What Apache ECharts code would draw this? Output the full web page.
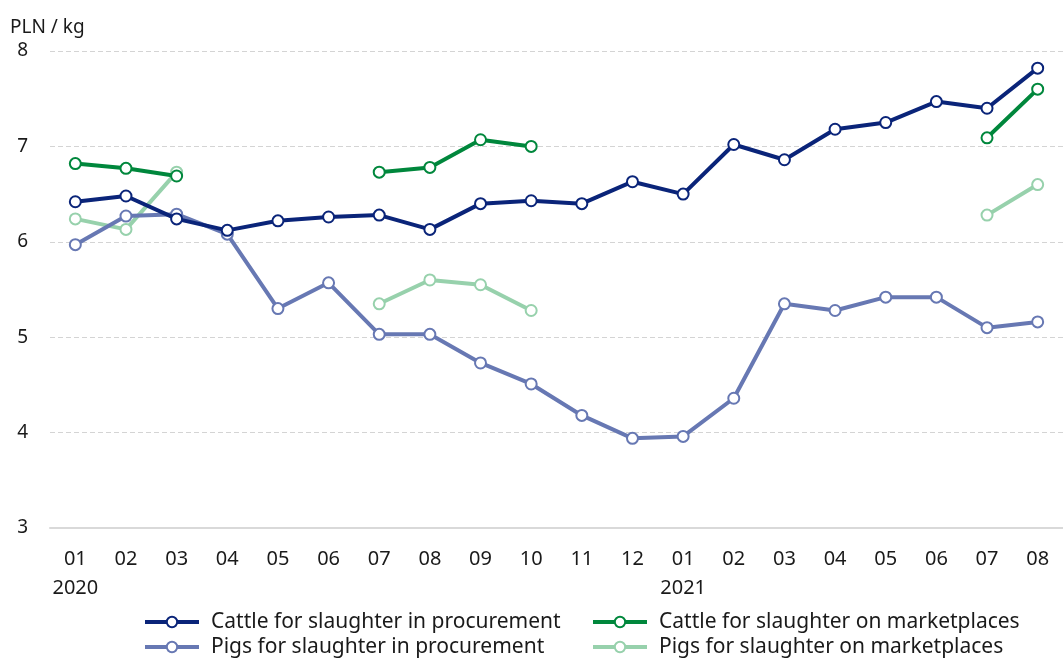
<!DOCTYPE html>
<html><head><meta charset="utf-8">
<script src="https://cdn.jsdelivr.net/npm/echarts@6/dist/echarts.min.js"></script>
<style>html,body{margin:0;padding:0;background:#fff}#c{width:1063px;height:658px}</style>
</head><body><div id="c"></div>
<script>
const months = ['01','02','03','04','05','06','07','08','09','10','11','12','01','02','03','04','05','06','07','08'];
const years = {0:'2020', 12:'2021'};
const cattleProc = [6.42,6.48,6.24,6.12,6.22,6.26,6.28,6.13,6.40,6.43,6.40,6.63,6.50,7.02,6.86,7.18,7.25,7.47,7.40,7.82];
const cattleMkt = [6.82,6.77,6.69,null,null,null,6.73,6.78,7.07,7.00,null,null,null,null,null,null,null,null,7.09,7.60];
const pigsProc = [5.97,6.27,6.29,6.08,5.30,5.57,5.03,5.03,4.73,4.51,4.18,3.94,3.96,4.36,5.35,5.28,5.42,5.42,5.10,5.16];
const pigsMkt = [6.24,6.13,6.73,null,null,null,5.35,5.60,5.55,5.28,null,null,null,null,null,null,null,null,6.28,6.60];
const names = ['Cattle for slaughter in procurement','Cattle for slaughter on marketplaces','Pigs for slaughter in procurement','Pigs for slaughter on marketplaces'];
const colors = ['#0a2479','#00873c','#6778b3','#97d1ac'];
const FONT = '"Noto Sans",sans-serif';
const cats = months.map((m,i)=> years[i] ? m + '\n' + years[i] : m);
const chart = echarts.init(document.getElementById('c'));
function mk(i, data){
  return {name:names[i], type:'line', data:data, color:colors[i],
    symbol:'emptyCircle', symbolSize:11, showSymbol:true,
    lineStyle:{width:4,color:colors[i]},
    itemStyle:{color:colors[i], borderWidth:3.6, borderColor:colors[i]},
    connectNulls:false, z: 10-i};
}
const legText = {color:'#1a1a1a',fontSize:21,fontFamily:FONT,lineHeight:22,padding:[0,0,0,7]};
function leg(i, left, top){
  return {data:[names[i]], orient:'horizontal', left:left, top:top, padding:0,
    itemWidth:54, itemHeight:13, textStyle:legText,
    lineStyle:{width:4}, itemStyle:{borderWidth:3.5}};
}
chart.setOption({
  animation:false,
  textStyle:{fontFamily:FONT},
  grid:{left:50,right:0,top:51,bottom:130},
  xAxis:{type:'category', data:cats, boundaryGap:true,
    axisTick:{show:false},
    axisLine:{lineStyle:{color:'#d9d9d9',width:2}},
    axisLabel:{interval:0,color:'#1a1a1a',fontSize:20,fontFamily:FONT,margin:17,lineHeight:29,align:'center'}},
  yAxis:{type:'value',min:3,max:8,interval:1,
    name:'PLN / kg', nameLocation:'end', nameGap:14,
    nameTextStyle:{color:'#1a1a1a',fontSize:19,fontFamily:FONT,align:'left',padding:[0,0,0,-40]},
    axisLine:{show:false},axisTick:{show:false},
    axisLabel:{color:'#1a1a1a',fontSize:19,fontFamily:FONT,margin:22},
    splitLine:{lineStyle:{color:'#d4d4d4',type:[5,3],width:1}}},
  legend:[leg(0,143,611), leg(2,143,636), leg(1,591,611), leg(3,591,636)],
  series:[mk(0,cattleProc), mk(1,cattleMkt), mk(2,pigsProc), mk(3,pigsMkt)]
});
</script></body></html>
